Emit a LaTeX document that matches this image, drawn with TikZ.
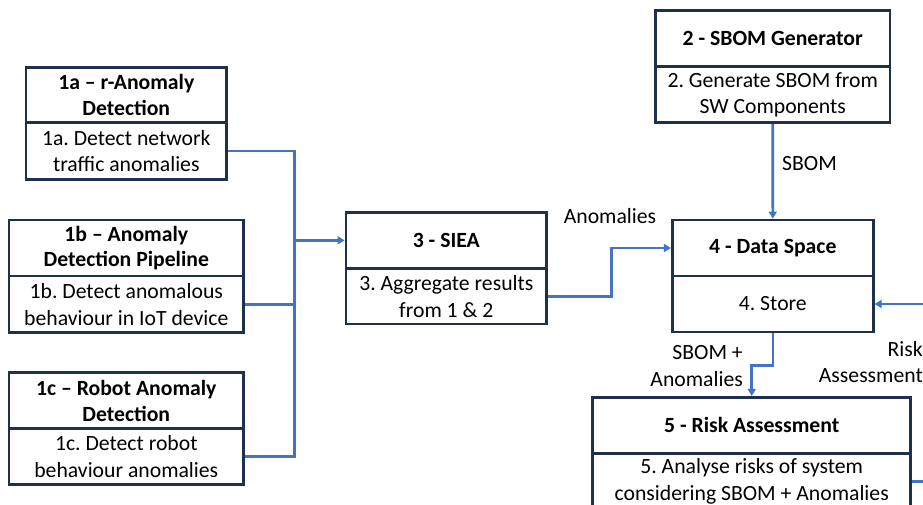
\documentclass[tikz,border=0pt]{standalone}
\usepackage{fontspec}
\setmainfont{Carlito}
\usetikzlibrary{arrows.meta}
\definecolor{navy}{HTML}{1F2F4E}
\definecolor{connc}{HTML}{4472C4}
\frenchspacing
\begin{document}
\frenchspacing
\begin{tikzpicture}[x=1pt,y=-1pt,
  box/.style={draw=navy, line width=2.7pt, align=center, inner sep=0pt, fill=white,
    font=\fontsize{21.7}{26.7}\selectfont},
  ttl/.style={box, font=\bfseries\fontsize{21.7}{25.8}\selectfont},
  conn/.style={draw=connc, line width=2.6pt},
  arr/.style={conn, -{Triangle[length=7pt,width=8pt]}},
  lbl/.style={font=\fontsize{21.7}{26.7}\selectfont, inner sep=0pt}]
\useasboundingbox (0,0) rectangle (923,504);
\clip (0,0) rectangle (923,504);
% 1a
\node[ttl, minimum width=200.7pt, minimum height=55.4pt] (t1a) at (126.3,95) {1a -- r-Anomaly\\Detection};
\node[box, minimum width=200.7pt, minimum height=56.6pt] (b1a) at (126.3,151) {1a. Detect network\\traffic anomalies};
% 1b
\node[ttl, minimum width=234.7pt, minimum height=56pt] (t1b) at (126.3,248) {1b -- Anomaly\\Detection Pipeline};
\node[box, minimum width=234.7pt, minimum height=56.7pt] (b1b) at (126.3,304.3) {1b. Detect anomalous\\behaviour in IoT device};
% 1c
\node[ttl, minimum width=234.7pt, minimum height=56pt] (t1c) at (126.3,400.7) {1c -- Robot Anomaly\\Detection};
\node[box, minimum width=234.7pt, minimum height=56pt] (b1c) at (126.3,456.7) {1c. Detect robot\\behaviour anomalies};
% 3
\node[ttl, minimum width=200.7pt, minimum height=56pt] (t3) at (446.3,240.3) {3 - SIEA};
\node[box, minimum width=200.7pt, minimum height=55.7pt] (b3) at (446.3,296.2) {3. Aggregate results\\from 1 \& 2};
% 2
\node[ttl, minimum width=234.7pt, minimum height=56pt] (t2) at (772.7,38.7) {2 - SBOM Generator};
\node[box, minimum width=234.7pt, minimum height=56pt] (b2) at (772.7,94.7) {2. Generate SBOM from\\SW Components};
% 4
\node[ttl, minimum width=201pt, minimum height=56pt] (t4) at (772.8,248) {4 - Data Space};
\node[box, minimum width=201pt, minimum height=56pt] (b4) at (772.8,304) {4. Store};
% 5
\node[ttl, minimum width=318pt, minimum height=56pt] (t5) at (751.7,425.3) {5 - Risk Assessment};
\node[box, minimum width=318pt, minimum height=56pt] (b5) at (751.7,481.3) {5. Analyse risks of system\\considering SBOM + Anomalies};
% connectors
\coordinate (bus) at (294.7,240.3);
\draw[conn] (b1a.east) -| (bus);
\draw[conn] (b1b.east) -| (bus);
\draw[conn] (b1c.east) -| (bus);
\draw[arr] (bus) -- (t3.west);
\draw[arr] (b3.east) -- ++(63.3,0) |- (t4.west);
\draw[arr] (b2.south) -- (t4.north);
\draw[arr] (b4.south) -- ++(0,32) -| (t5.north);
\coordinate (ret) at (940,304);
\draw[arr] (b5.east) -| (ret) -- (b4.east);
% labels
\node[lbl] (la) at (610,216) {Anomalies};
\node[lbl, anchor=west] (ls) at (782,164) {SBOM};
\node[lbl, anchor=east, align=right] (lsa) at (743,366) {SBOM +\\Anomalies};
\node[lbl, anchor=east, align=right] (lr) at (923,362) {Risk\\Assessment};
\end{tikzpicture}
\end{document}
